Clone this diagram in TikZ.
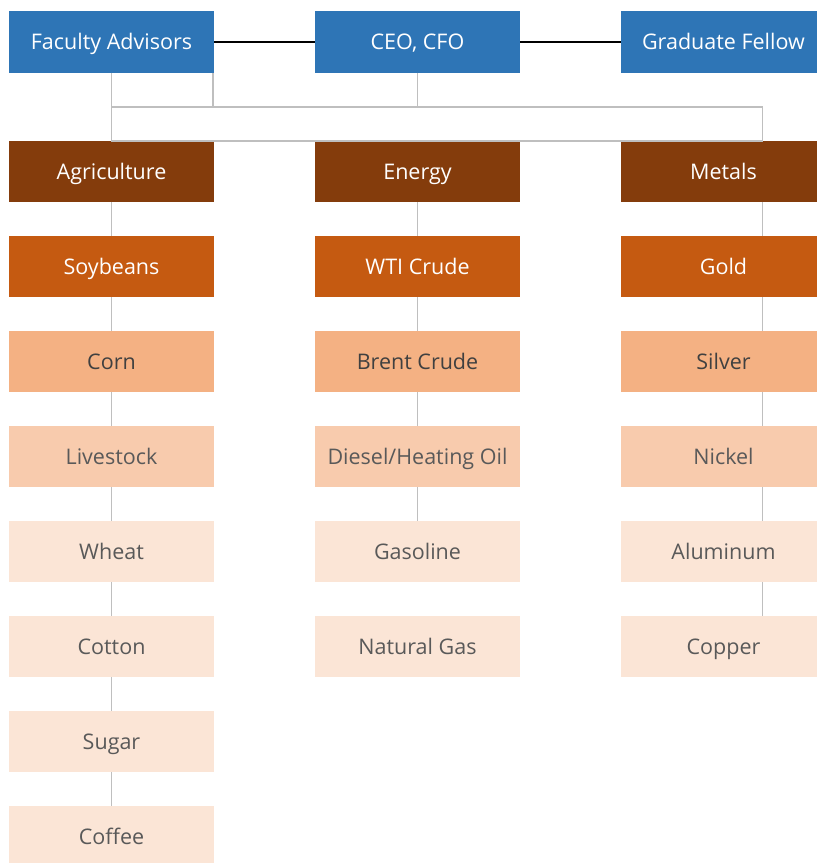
\documentclass[tikz,border=0pt]{standalone}
\usepackage{fontspec}
\setmainfont{Open Sans}
\usetikzlibrary{positioning}
\definecolor{leadblue}{HTML}{2E75B6}
\definecolor{sectorbrown}{HTML}{843C0C}
\definecolor{tieronecol}{HTML}{C55A11}
\definecolor{tiertwocol}{HTML}{F4B183}
\definecolor{tierthreecol}{HTML}{F8CBAD}
\definecolor{tierfourcol}{HTML}{FBE5D6}
\definecolor{linkgray}{HTML}{BFBFBF}
\definecolor{darktext}{HTML}{404040}
\definecolor{softtext}{HTML}{595959}
\tikzset{
  box/.style={minimum width=205pt, minimum height=61.5pt, inner sep=0pt, outer sep=0pt,
    text height=18pt, text depth=3pt, font=\fontsize{21.5}{24}\selectfont},
  lead/.style={box, fill=leadblue, text=white},
  sector/.style={box, fill=sectorbrown, text=white},
  tierone/.style={box, fill=tieronecol, text=white},
  tiertwo/.style={box, fill=tiertwocol, text=darktext},
  tierthree/.style={box, fill=tierthreecol, text=softtext},
  tierfour/.style={box, fill=tierfourcol, text=softtext},
  link/.style={draw=linkgray, line width=1.8pt},
  boardlink/.style={draw=black, line width=2pt},
}
\begin{document}
\begin{tikzpicture}[x=1pt, y=-1pt, node distance=33.5pt]
 \useasboundingbox (0,0) rectangle (817,863);
 % board
 \node[lead] (faculty) at (111.5,42) {Faculty Advisors};
 \node[lead, right=101pt of faculty] (ceo) {CEO, CFO};
 \node[lead, right=101pt of ceo] (fellow) {Graduate Fellow};
 % sectors
 \node[sector, below=68pt of faculty] (agri) {Agriculture};
 \node[sector, below=68pt of ceo] (energy) {Energy};
 \node[sector, below=68pt of fellow] (metals) {Metals};
 % agriculture
 \node[tierone, below=of agri] (soy) {Soybeans};
 \node[tiertwo, below=of soy] (corn) {Corn};
 \node[tierthree, below=of corn] (livestock) {Livestock};
 \node[tierfour, below=of livestock] (wheat) {Wheat};
 \node[tierfour, below=of wheat] (cotton) {Cotton};
 \node[tierfour, below=of cotton] (sugar) {Sugar};
 \node[tierfour, below=of sugar] (coffee) {Coffee};
 % energy
 \node[tierone, below=of energy] (wti) {WTI Crude};
 \node[tiertwo, below=of wti] (brent) {Brent Crude};
 \node[tierthree, below=of brent] (diesel) {Diesel/Heating Oil};
 \node[tierfour, below=of diesel] (gasoline) {Gasoline};
 \node[tierfour, below=of gasoline] (natgas) {Natural Gas};
 % metals
 \node[tierone, below=of metals] (gold) {Gold};
 \node[tiertwo, below=of gold] (silver) {Silver};
 \node[tierthree, below=of silver] (nickel) {Nickel};
 \node[tierfour, below=of nickel] (aluminum) {Aluminum};
 \node[tierfour, below=of aluminum] (copper) {Copper};
 % connectors
 \coordinate (bar) at (0,107);
 \coordinate (mline) at (762.5,0);
 \draw[boardlink] (faculty) -- (ceo);
 \draw[boardlink] (ceo) -- (fellow);
 \draw[link] (faculty.south) -- (agri.north);
 \draw[link] ([xshift=-1pt]faculty.south east) -- ([xshift=-1pt]faculty.south east |- bar);
 \draw[link] (ceo.south) -- (ceo.south |- bar);
 \draw[link] (agri.north |- bar) rectangle (mline |- agri.north);
 \draw[link] (agri) -- (soy);
 \draw[link] (soy) -- (corn);
 \draw[link] (corn) -- (livestock);
 \draw[link] (livestock) -- (wheat);
 \draw[link] (wheat) -- (cotton);
 \draw[link] (cotton) -- (sugar);
 \draw[link] (sugar) -- (coffee);
 \draw[link] (energy) -- (wti);
 \draw[link] (wti) -- (brent);
 \draw[link] (brent) -- (diesel);
 \draw[link] (diesel) -- (gasoline);
 \draw[link] (metals.south -| mline) -- (gold.north -| mline);
 \draw[link] (gold.south -| mline) -- (silver.north -| mline);
 \draw[link] (silver.south -| mline) -- (nickel.north -| mline);
 \draw[link] (nickel.south -| mline) -- (aluminum.north -| mline);
 \draw[link] (aluminum.south -| mline) -- (copper.north -| mline);
\end{tikzpicture}
\end{document}
